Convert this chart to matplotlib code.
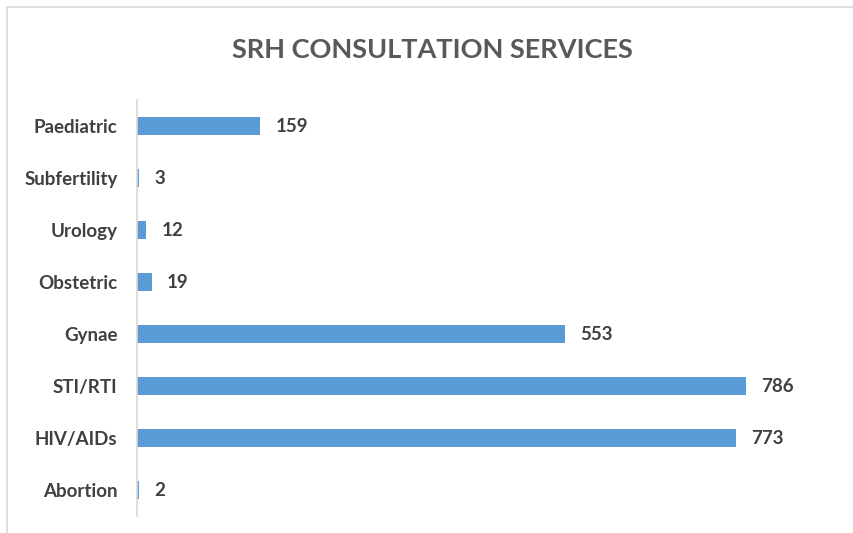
import matplotlib
matplotlib.use("Agg")
import matplotlib.pyplot as plt
from matplotlib.patches import Rectangle

categories = ["Paediatric", "Subfertility", "Urology", "Obstetric", "Gynae", "STI/RTI", "HIV/AIDs", "Abortion"]
values = [159, 3, 12, 19, 553, 786, 773, 2]
title = "SRH CONSULTATION SERVICES"

FONT = ["Lato", "DejaVu Sans"]
plt.rcParams['font.family'] = FONT

fig = plt.figure(figsize=(8.54, 5.33), dpi=100)
fig.patch.set_facecolor("white")
# chart frame
fig.patches.append(Rectangle((7/854, -0.05), 1.2, 1 - 7/533 + 0.05, transform=fig.transFigure,
                             fill=False, edgecolor="#d9d9d9", linewidth=1.2))

ax = fig.add_axes([137/854, 1 - 516/533, 697/854, 416/533])
y = list(range(len(categories)))
ax.barh(y, values, height=0.35, color="#5b9bd5")
ax.set_ylim(len(categories) - 0.5, -0.5)
ax.set_xlim(0, 900)
ax.set_yticks(y)
ax.set_yticklabels(categories, fontsize=13.5, color="#404040", fontweight="bold")
ax.tick_params(axis="y", length=0, pad=14)
ax.set_xticks([])
for s in ["top", "right", "bottom"]:
    ax.spines[s].set_visible(False)
ax.spines["left"].set_color("#d9d9d9")
ax.spines["left"].set_linewidth(1.2)
for yi, v in zip(y, values):
    ax.annotate(str(v), (v, yi), xytext=(11, 0), textcoords="offset points",
                va="center", ha="left", fontsize=13.5, color="#404040", fontweight="bold")

fig.text(432/854, 1 - 50/533, title, ha="center", va="center", fontsize=19.5,
         fontweight="bold", color="#595959")

fig.savefig("out.png", dpi=100)
